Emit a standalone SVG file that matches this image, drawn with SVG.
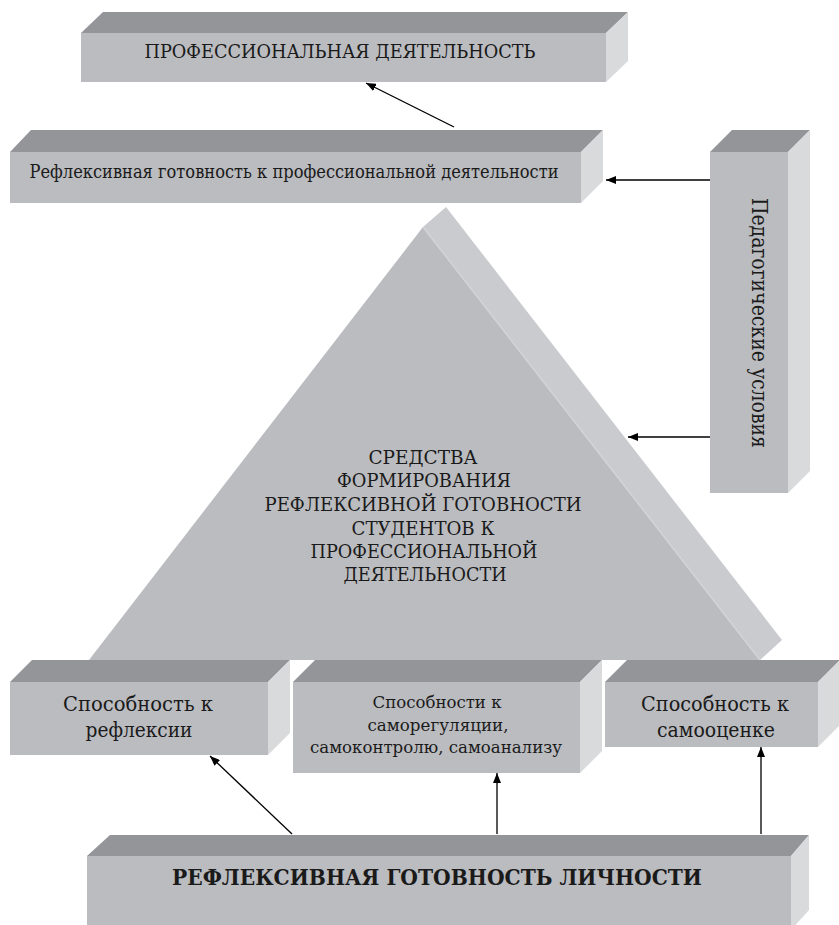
<svg xmlns="http://www.w3.org/2000/svg" width="839" height="925" viewBox="0 0 839 925">
<defs>
<style>
.front{fill:#bbbcc0}
.top{fill:#949599}
.side{fill:#d9dadc}
.strip{fill:#cacbce}
.t{font-family:"DejaVu Serif",serif;fill:#1a1a1a;text-anchor:middle}
.conn line{stroke:#000;stroke-width:1.3;marker-end:url(#ah)}
</style>
<marker id="ah" viewBox="0 0 10 8" refX="10" refY="4" markerWidth="10" markerHeight="8" markerUnits="userSpaceOnUse" orient="auto">
<path d="M0,0 L10,4 L0,8 Z" fill="#000"/>
</marker>
</defs>
<rect width="839" height="925" fill="#fff"/>

<g id="triangle">
<polygon class="strip" points="423,227 446,207 782,640 760,660"/>
<polygon class="front" points="423,227 89,660 760,660"/>
<line x1="423" y1="227" x2="760" y2="660" stroke="#d3d4d6" stroke-width="1.5"/>
<g class="t" font-size="19" lengthAdjust="spacingAndGlyphs">
<text x="423" y="464" textLength="109" lengthAdjust="spacingAndGlyphs">СРЕДСТВА</text>
<text x="424" y="487" textLength="174" lengthAdjust="spacingAndGlyphs">ФОРМИРОВАНИЯ</text>
<text x="423" y="511" textLength="317" lengthAdjust="spacingAndGlyphs">РЕФЛЕКСИВНОЙ ГОТОВНОСТИ</text>
<text x="423" y="535" textLength="143" lengthAdjust="spacingAndGlyphs">СТУДЕНТОВ К</text>
<text x="424" y="558" textLength="227" lengthAdjust="spacingAndGlyphs">ПРОФЕССИОНАЛЬНОЙ</text>
<text x="425" y="581" textLength="163" lengthAdjust="spacingAndGlyphs">ДЕЯТЕЛЬНОСТИ</text>
</g>
</g>

<g id="prof">
<polygon class="top" points="81,33 103,12 628,12 606,33"/>
<polygon class="side" points="606,33 628,12 628,61 606,82"/>
<rect class="front" x="81" y="33" width="525" height="49"/>
<text class="t" font-size="18" x="340" y="58" textLength="391" lengthAdjust="spacingAndGlyphs">ПРОФЕССИОНАЛЬНАЯ ДЕЯТЕЛЬНОСТЬ</text>
</g>

<g id="refl-prof">
<polygon class="top" points="10,152 31,130 603,130 581,152"/>
<polygon class="side" points="581,152 603,130 603,181 581,203"/>
<rect class="front" x="10" y="152" width="571" height="51"/>
<text class="t" font-size="19" x="294" y="178" textLength="529" lengthAdjust="spacingAndGlyphs">Рефлексивная готовность к профессиональной деятельности</text>
</g>

<g id="ped">
<polygon class="top" points="710,152 732,130 810,130 788,152"/>
<polygon class="side" points="788,152 810,130 810,471 788,493"/>
<rect class="front" x="710" y="152" width="78" height="341"/>
<text class="t" font-size="22" transform="translate(752,323) rotate(90)" textLength="250" lengthAdjust="spacingAndGlyphs">Педагогические условия</text>
</g>

<g id="ab-refl">
<polygon class="top" points="10,682 32,660 290,660 268,682"/>
<polygon class="side" points="268,682 290,660 290,733 268,755"/>
<rect class="front" x="10" y="682" width="258" height="73"/>
<text class="t" font-size="21" x="138" y="711" textLength="150" lengthAdjust="spacingAndGlyphs">Способность к</text>
<text class="t" font-size="21" x="139" y="737" textLength="107" lengthAdjust="spacingAndGlyphs">рефлексии</text>
</g>

<g id="ab-self">
<polygon class="top" points="293,682 315,660 602,660 580,682"/>
<polygon class="side" points="580,682 602,660 602,751 580,773"/>
<rect class="front" x="293" y="682" width="287" height="91"/>
<text class="t" font-size="17" x="437" y="708" textLength="129" lengthAdjust="spacingAndGlyphs">Способности к</text>
<text class="t" font-size="17" x="438" y="731" textLength="141" lengthAdjust="spacingAndGlyphs">саморегуляции,</text>
<text class="t" font-size="17" x="436" y="753" textLength="252" lengthAdjust="spacingAndGlyphs">самоконтролю, самоанализу</text>
</g>

<g id="ab-eval">
<polygon class="top" points="605,682 627,660 840,660 818,682"/>
<polygon class="side" points="818,682 840,660 840,725 818,747"/>
<rect class="front" x="605" y="682" width="213" height="65"/>
<text class="t" font-size="21" x="715" y="711" textLength="148" lengthAdjust="spacingAndGlyphs">Способность к</text>
<text class="t" font-size="21" x="716" y="737" textLength="118" lengthAdjust="spacingAndGlyphs">самооценке</text>
</g>

<g id="personal">
<polygon class="top" points="87,856 110,835 809,835 791,856"/>
<polygon class="side" points="791,856 809,835 809,910 791,930"/>
<rect class="front" x="87" y="856" width="704" height="74"/>
<text class="t" font-size="23" font-weight="bold" x="437" y="885" textLength="530" lengthAdjust="spacingAndGlyphs">РЕФЛЕКСИВНАЯ ГОТОВНОСТЬ ЛИЧНОСТИ</text>
</g>

<g id="connectors" class="conn">
<line x1="454" y1="127" x2="366" y2="83"/>
<line x1="710" y1="180" x2="606" y2="180"/>
<line x1="710" y1="437" x2="628" y2="437"/>
<line x1="292" y1="834" x2="210" y2="756"/>
<line x1="497" y1="834" x2="497" y2="773"/>
<line x1="761" y1="834" x2="761" y2="747"/>
</g>
</svg>
